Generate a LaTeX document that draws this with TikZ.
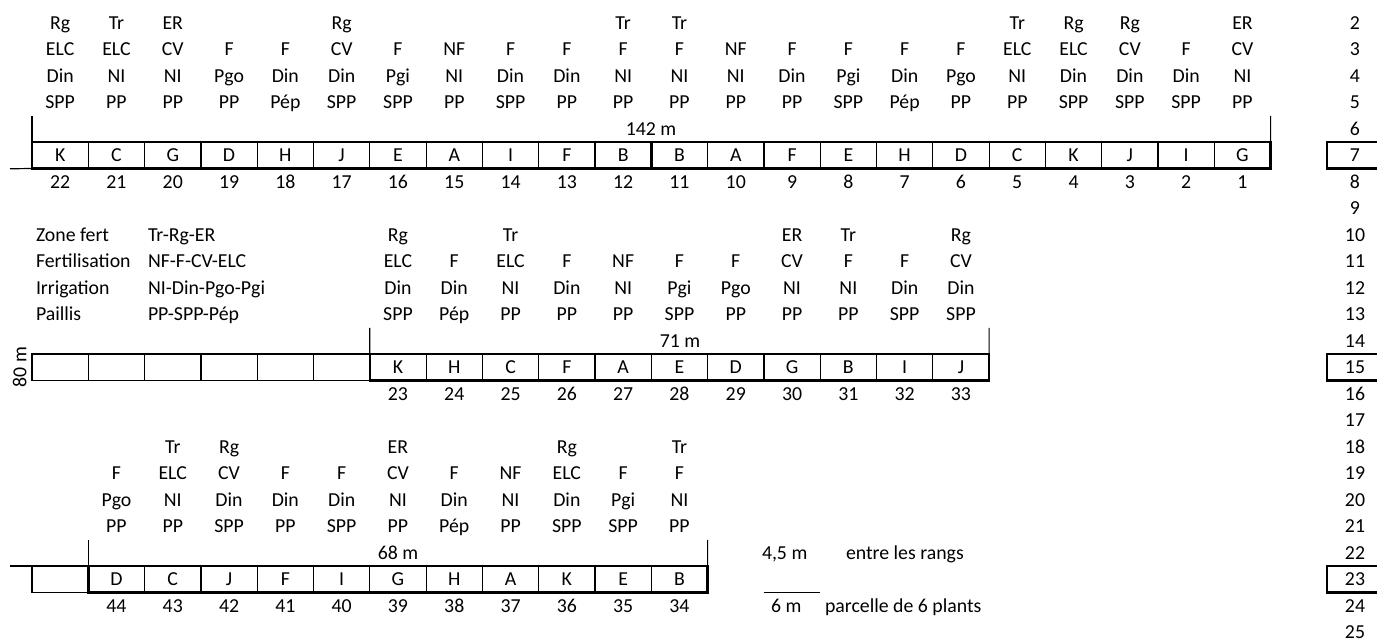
\documentclass[tikz,border=0pt]{standalone}
\usepackage{fontspec}
\setmainfont{Carlito}
\newcommand\drawplotrow[3]{%
  \foreach \L/\n/\a/\b/\c/\d [count=\i from #1] in {#3}{%
    \pgfmathsetmacro\xx{32+(\i+0.5)*56.3}%
    \node[cell] (p\n) at (\xx,#2) {\L};
    \node[txt] (n\n) at (\xx,#2+26.5) {\n};
    \node[txt] (la\n) at (\xx,#2-132.5) {\a};
    \node[txt] (lb\n) at (\xx,#2-106) {\b};
    \node[txt] (lc\n) at (\xx,#2-79.5) {\c};
    \node[txt] (ld\n) at (\xx,#2-53) {\d};
  }}
\begin{document}
\begin{tikzpicture}[x=1pt,y=-1pt,
  every node/.style={font=\fontsize{19.8}{24}\selectfont},
  thinline/.style={line width=1.2pt},
  thickline/.style={line width=2.6pt},
  cell/.style={draw,thinline,minimum width=56.3pt,minimum height=26.5pt,inner sep=0pt,outer sep=0pt,text height=12.7pt,text depth=0pt},
  txt/.style={inner sep=0pt,outer sep=0pt,text height=12.7pt,text depth=0pt}]
\useasboundingbox (0,0) rectangle (1377,643);

% ---------- top row (row 7) ----------
\drawplotrow{0}{155.25}{K/22/Rg/ELC/Din/SPP, C/21/Tr/ELC/NI/PP, G/20/ER/CV/NI/PP, D/19/{}/F/Pgo/PP, H/18/{}/F/Din/Pép, J/17/Rg/CV/Din/SPP, E/16/{}/F/Pgi/SPP, A/15/{}/NF/NI/PP, I/14/{}/F/Din/SPP, F/13/{}/F/Din/PP, B/12/Tr/F/NI/PP, B/11/Tr/F/NI/PP, A/10/{}/NF/NI/PP, F/9/{}/F/Din/PP, E/8/{}/F/Pgi/SPP, H/7/{}/F/Din/Pép, D/6/{}/F/Pgo/PP, C/5/Tr/ELC/NI/PP, K/4/Rg/ELC/Din/SPP, J/3/Rg/CV/Din/SPP, I/2/{}/F/Din/SPP, G/1/ER/CV/NI/PP}
\draw[thickline] (p22.north west) rectangle (p1.south east);
\draw[thickline] (p12.north east) -- (p12.south east);
\coordinate (topL) at (32,115.75);
\coordinate (topR) at (1270.6,115.75);
\coordinate (topX) at (10,168.75);
\draw[thinline] (topL) -- (p22.north west);
\draw[thinline] (topR) -- (p1.north east);
\draw[thinline] (topX) -- (p22.south west);
\node[txt] (d142) at (651,128.75) {142 m};

% ---------- middle row (row 15) ----------
\foreach \i in {0,...,5}{\node[cell] (m\i) at ({32+(\i+0.5)*56.3},367.25) {};}
\drawplotrow{6}{367.25}{K/23/Rg/ELC/Din/SPP, H/24/{}/F/Din/Pép, C/25/Tr/ELC/NI/PP, F/26/{}/F/Din/PP, A/27/{}/NF/NI/PP, E/28/{}/F/Pgi/SPP, D/29/{}/F/Pgo/PP, G/30/ER/CV/NI/PP, B/31/Tr/F/NI/PP, I/32/{}/F/Din/SPP, J/33/Rg/CV/Din/SPP}
\draw[thickline] (p23.north west) rectangle (p33.south east);
\coordinate (midL) at (369.8,327.75);
\coordinate (midR) at (989.1,327.75);
\draw[thinline] (midL) -- (p23.north west);
\draw[thinline] (midR) -- (p33.north east);
\node[txt] (d71) at (680,340.75) {71 m};
\node[txt,rotate=90] (d80) at (20,367.25) {80 m};

% legend of codes
\node[txt,anchor=west] (k1) at (36,234.75) {Zone fert};
\node[txt,anchor=west] (k2) at (36,261.25) {Fertilisation};
\node[txt,anchor=west] (k3) at (36,287.75) {Irrigation};
\node[txt,anchor=west] (k4) at (36,314.25) {Paillis};
\node[txt,anchor=west] (v1) at (148,234.75) {Tr-Rg-ER};
\node[txt,anchor=west] (v2) at (148,261.25) {NF-F-CV-ELC};
\node[txt,anchor=west] (v3) at (148,287.75) {NI-Din-Pgo-Pgi};
\node[txt,anchor=west] (v4) at (148,314.25) {PP-SPP-Pép};

% ---------- bottom row (row 23) ----------
\node[cell] (b0) at ({32+0.5*56.3},579.25) {};
\drawplotrow{1}{579.25}{D/44/{}/F/Pgo/PP, C/43/Tr/ELC/NI/PP, J/42/Rg/CV/Din/SPP, F/41/{}/F/Din/PP, I/40/{}/F/Din/SPP, G/39/ER/CV/NI/PP, H/38/{}/F/Din/Pép, A/37/{}/NF/NI/PP, K/36/Rg/ELC/Din/SPP, E/35/{}/F/Pgi/SPP, B/34/Tr/F/NI/PP}
\draw[thickline] (p44.north west) rectangle (p34.south east);
\coordinate (botL) at (88.3,539.75);
\coordinate (botR) at (707.6,539.75);
\coordinate (botX) at (10,566);
\draw[thinline] (botL) -- (p44.north west);
\draw[thinline] (botR) -- (p34.north east);
\draw[thinline] (botX) -- (b0.north west);
\node[txt] (d68) at (398,552.75) {68 m};

% scale legend
\node[txt,anchor=west] (s1) at (762,552.75) {4,5 m};
\node[txt,anchor=west] (s2) at (846,552.75) {entre les rangs};
\coordinate (sA) at (763.9,592.75);
\coordinate (sB) at (820.2,592.75);
\draw[thinline] (sA) -- (sB);
\node[txt,anchor=west] (s3) at (771,605.75) {6 m};
\node[txt,anchor=west] (s4) at (825,605.75) {parcelle de 6 plants};

% ---------- right column of row numbers ----------
\foreach \r in {2,...,25}{\node[txt] (r\r) at (1355,{155.25+(\r-7)*26.5}) {\r};}
\foreach \r in {7,15,23}{\node[cell,line width=2.2pt] (rb\r) at (1355.05,{155.25+(\r-7)*26.5}) {};}
\end{tikzpicture}
\end{document}
